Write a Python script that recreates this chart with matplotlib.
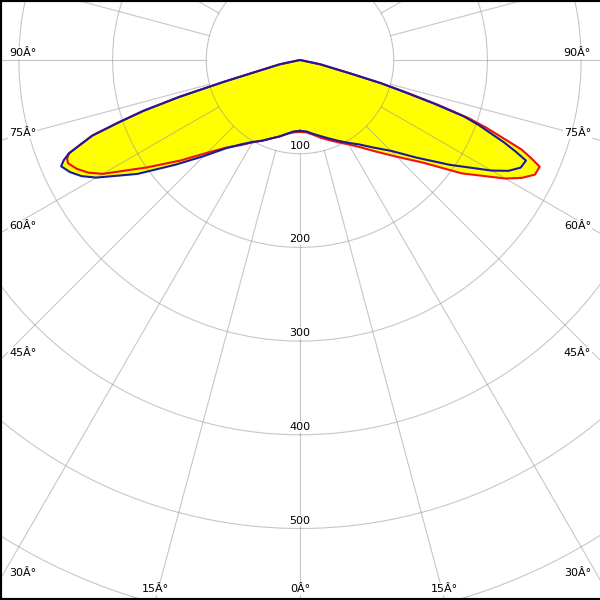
import numpy as np
import matplotlib.pyplot as plt
from matplotlib.lines import Line2D

# Polar light distribution (cd/klm), angle measured from nadir
angles = [0, 5, 10, 15, 20, 25, 30, 35, 40, 45, 50, 55, 60,
          62, 64, 66, 67, 68, 70, 71, 72, 73, 74, 75, 78, 80, 90]

# red curve (C0 - C180)
red_right = [76.7, 77.5, 81, 86, 91, 97, 104, 114, 128, 146, 170, 211, 253,
             268, 279, 280, 268, 255, 212, 190, 155, 120, 90, 58, 22, 0, 0]
red_left = [76.7, 77.5, 80, 84.5, 89, 95, 101.5, 111, 122, 140, 167, 200, 243,
            256, 265, 271, 270, 266, 236, 205, 176, 135, 85, 50, 22, 0, 0]

# blue curve (C90 - C270)
blue_right = [75.6, 76.5, 80, 84, 89, 95, 102, 110, 122, 137, 162, 195, 236,
              252, 262, 264, 250, 235, 203, 185, 150, 115, 90, 55, 22, 0, 0]
blue_left = [75.6, 76.5, 80, 84.5, 89, 95, 101, 110, 123, 145, 174, 212, 251,
             264, 273, 279, 274, 266, 236, 205, 176, 135, 85, 50, 22, 0, 0]

ring_values = [100, 200, 300, 400, 500, 600]
ring_labels = ['100', '200', '300', '400', '500']
label_angles = [-90, -75, -60, -45, -30, -15, 0, 15, 30, 45, 60, 75, 90]

R_MAX = 700
PX_PER_UNIT = 0.937
W = 600


def closed_curve(right, left):
    th = np.concatenate([np.deg2rad(angles), -np.deg2rad(angles[::-1])])
    r = np.concatenate([right, left[::-1]])
    return th, r


fig = plt.figure(figsize=(6, 6), dpi=100)
rad = R_MAX * PX_PER_UNIT / W
ax = fig.add_axes([0.5 - rad, 0.9 - rad, 2 * rad, 2 * rad], projection='polar')
ax.set_theta_zero_location('S')
ax.set_ylim(0, R_MAX)
ax.set_xticks([])
ax.set_yticks([])
ax.grid(False)
ax.spines['polar'].set_visible(False)

grid_kw = dict(color='#999999', lw=0.8, alpha=0.55, zorder=2)

# light distribution fill
for right, left in [(red_right, red_left), (blue_right, blue_left)]:
    th, r = closed_curve(right, left)
    ax.fill(th, r, color='#ffff00', lw=0, zorder=1)

# rings and rays
full = np.linspace(0, 2 * np.pi, 721)
for rv in ring_values:
    ax.plot(full, np.full_like(full, rv), **grid_kw)
for a in range(0, 360, 15):
    t = np.deg2rad(a)
    ax.plot([t, t], [100, R_MAX], **grid_kw)

th, r = closed_curve(red_right, red_left)
ax.plot(th, r, color='#ee1111', lw=1.5, zorder=3)
th, r = closed_curve(blue_right, blue_left)
ax.plot(th, r, color='#1a1aa0', lw=1.5, zorder=4)

txt_kw = dict(fontsize=8, color='black', zorder=5,
              bbox=dict(facecolor='white', edgecolor='none', pad=0.6))

for rv, lab in zip(ring_values, ring_labels):
    ax.text(0, rv - 8.5, lab, ha='center', va='center', **txt_kw)

# angle labels where each ray leaves the picture
fig.canvas.draw()
cx, cy = ax.transData.transform((0, 0))
for a in label_angles:
    px, py = ax.transData.transform((np.deg2rad(a), 100))
    dx, dy = px - cx, py - cy
    ts = []
    if dx > 1e-6:
        ts.append(((W - cx) / dx, 'right'))
    elif dx < -1e-6:
        ts.append((-cx / dx, 'left'))
    if dy < -1e-6:
        ts.append((-cy / dy, 'bottom'))
    t, side = min(ts)
    hx, hy = cx + t * dx, cy + t * dy
    s = f"{abs(a)}Â°"
    if side == 'left':
        fig.text(9 / W, (hy + 7) / W, s, ha='left', va='center', **txt_kw)
    elif side == 'right':
        fig.text(591 / W, (hy + 7) / W, s, ha='right', va='center', **txt_kw)
    else:
        fig.text(hx / W, 11 / W, s, ha='center', va='center', **txt_kw)

# frame on top, left and bottom
for xs, ys in [([0, 1], [1, 1]), ([0, 0], [0, 1]), ([0, 1], [0, 0])]:
    fig.add_artist(Line2D(xs, ys, color='black', lw=3, transform=fig.transFigure))

fig.savefig('out.png', dpi=100)
